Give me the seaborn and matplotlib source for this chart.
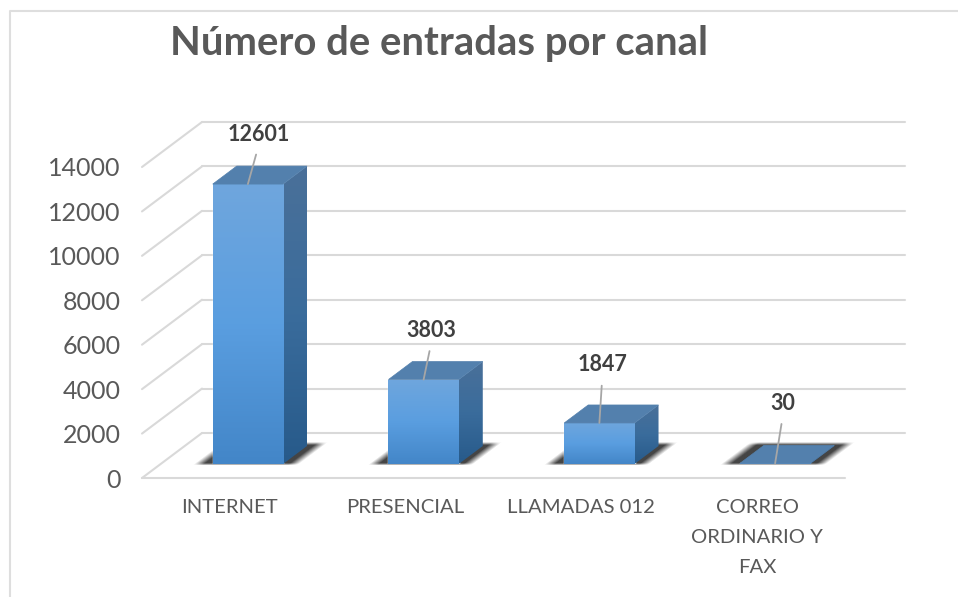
import numpy as np
import pandas as pd
import matplotlib
matplotlib.use("Agg")
import matplotlib.pyplot as plt
import seaborn as sns
from matplotlib.colors import LinearSegmentedColormap, to_rgb
from matplotlib.patches import ConnectionPatch, Polygon

# Values
canales = ["INTERNET", "PRESENCIAL", "LLAMADAS 012", "CORREO\nORDINARIO Y\nFAX"]
entradas = [12601, 3803, 1847, 30]
y_ticks = [0, 2000, 4000, 6000, 8000, 10000, 12000, 14000]
# where each value label sits relative to the bar top, in pixels
label_offsets = [(11, 50), (8, 49), (3, 58), (8, 60)]

W, H = 958, 597
GREY_TEXT = "#595959"
GRID = "#d9d9d9"

sns.set_theme(style="white")
plt.rcParams["font.family"] = ["Lato", "DejaVu Sans"]

df = pd.DataFrame({"canal": canales, "entradas": entradas})

fig = plt.figure(figsize=(W / 100, H / 100), dpi=100, facecolor="white")


def plane(left, right, y0, y14):
    # axes from pixel positions, all three share the same limits
    a = fig.add_axes([left / W, 1 - y0 / H, (right - left) / W, (y0 - y14) / H])
    a.set_xlim(-0.5, 3.5)
    a.set_ylim(0, 14000)
    a.patch.set_alpha(0)
    sns.despine(ax=a, left=True, bottom=True)
    return a


ax_wall = plane(202, 905, 433, 122)
ax_front = plane(142, 845, 478, 167)
ax_bar = plane(160, 863, 464, 153)

# Back wall gridlines
ax_wall.set_yticks(y_ticks)
ax_wall.set_xticks([])
ax_wall.tick_params(left=False, labelleft=False)
ax_wall.grid(axis="y", color=GRID, lw=1.5)
ax_wall.set_axisbelow(True)
for line in ax_wall.get_ygridlines():
    line.set_clip_on(False)

# Front plane holds the tick labels and the floor edge
ax_front.set_xticks(range(4))
ax_front.set_xticklabels(canales, fontsize=14.6, color=GREY_TEXT, linespacing=1.9)
ax_front.set_yticks(y_ticks)
ax_front.set_yticklabels([str(v) for v in y_ticks], fontsize=18, color=GREY_TEXT, va="center_baseline")
ax_front.tick_params(left=False, pad=9.5, axis="y")
ax_front.tick_params(bottom=False, pad=9.4, axis="x")
ax_front.axhline(0, color=GRID, lw=1.5, clip_on=False)

# Diagonal lines joining the front plane to the wall
for v in y_ticks:
    fig.add_artist(ConnectionPatch((-0.5, v), (-0.5, v), "data", "data",
                                   axesA=ax_front, axesB=ax_wall, color=GRID, lw=1.5))

# Bars
sns.barplot(data=df, x="canal", y="entradas", ax=ax_bar, width=0.4,
            color="#4a8fd6", saturation=1, legend=False)
ax_bar.set_xlabel("")
ax_bar.set_ylabel("")
ax_bar.set_xticks([])
ax_bar.set_yticks([])
ax_bar.grid(False)

px_x = 4 / 703  # data units per pixel
px_y = 14000 / 311
dx = 24 * px_x
dy = 18 * px_y

front_cmap = LinearSegmentedColormap.from_list("front", ["#6fa6dd", "#5a9ee0", "#4386c8"])
side_cmap = LinearSegmentedColormap.from_list("side", ["#4a7099", "#3a6c9c", "#275a8a"])
ramp = np.linspace(0, 1, 128).reshape(-1, 1)


def soft_shadow(x0, x1):
    # blurred parallelogram on the floor, worked out in pixels from the bar base
    xs = np.arange(-40, x1 / px_x - x0 / px_x + 70)
    ys = np.arange(-6, 30)
    gx, gy = np.meshgrid(xs + 0.5, ys + 0.5)
    u = gx - gy * 1.33
    w = (x1 - x0) / px_x
    edge = np.clip((u + 19) / 10, 0, 1) * np.clip((w + 15 - u) / 10, 0, 1)
    rise = np.clip((gy + 1.5) / 2.5, 0, 1) * np.clip((22 - gy) / 3, 0, 1)
    rgba = np.zeros(gx.shape + (4,))
    rgba[..., :3] = to_rgb("#303030")
    rgba[..., 3] = edge * rise * 0.9
    ax_bar.imshow(rgba, extent=(x0 + xs[0] * px_x, x0 + (xs[-1] + 1) * px_x,
                                ys[0] * px_y, (ys[-1] + 1) * px_y),
                  origin="lower", aspect="auto", zorder=1, clip_on=False, interpolation="bilinear")


for bar, value, (ox, oy) in zip(list(ax_bar.patches), entradas, label_offsets):
    x0, w = bar.get_x(), bar.get_width()
    x1 = x0 + w

    soft_shadow(x0, x1)

    # gradient on the front face, clipped by the bar
    bar.set_zorder(4)
    im = ax_bar.imshow(ramp, cmap=front_cmap, extent=(x0, x1, 0, value), aspect="auto",
                       origin="upper", zorder=5)
    im.set_clip_path(bar)

    # side face
    side = Polygon([(x1, 0), (x1 + dx, dy), (x1 + dx, value + dy), (x1, value)],
                   closed=True, fc="none", ec="none", zorder=4)
    ax_bar.add_patch(side)
    im = ax_bar.imshow(ramp, cmap=side_cmap, extent=(x1, x1 + dx, 0, value + dy),
                       aspect="auto", origin="upper", zorder=4)
    im.set_clip_path(side)

    # top face
    ax_bar.add_patch(Polygon([(x0, value), (x1, value), (x1 + dx, value + dy), (x0 + dx, value + dy)],
                             closed=True, fc="#5380ad", ec="#5380ad", lw=0.5, zorder=6))

    # value label with leader line
    ax_bar.annotate(str(value), xy=(x0 + w / 2, value), xytext=(ox, oy),
                    textcoords="offset pixels", ha="center", va="center",
                    fontsize=15.5, fontweight="bold", color="#404040", zorder=8,
                    arrowprops=dict(arrowstyle="-", color="#a6a6a6", lw=1.3,
                                    shrinkA=5, shrinkB=0, relpos=(0.5, 0)))

ax_bar.set_xlim(-0.5, 3.5)
ax_bar.set_ylim(0, 14000)

# Title and chart frame
fig.text(170 / W, 1 - 43 / H, "Número de entradas por canal", fontsize=28.8, fontweight="bold",
         color=GREY_TEXT, ha="left", va="center")
frame_x = [9.5 / W, 9.5 / W, 1]
frame_y = [0, 1 - 10.5 / H, 1 - 10.5 / H]
fig.add_artist(plt.Line2D(frame_x, frame_y, color="#dedede", lw=1.5))

fig.savefig("out.png", dpi=100)
